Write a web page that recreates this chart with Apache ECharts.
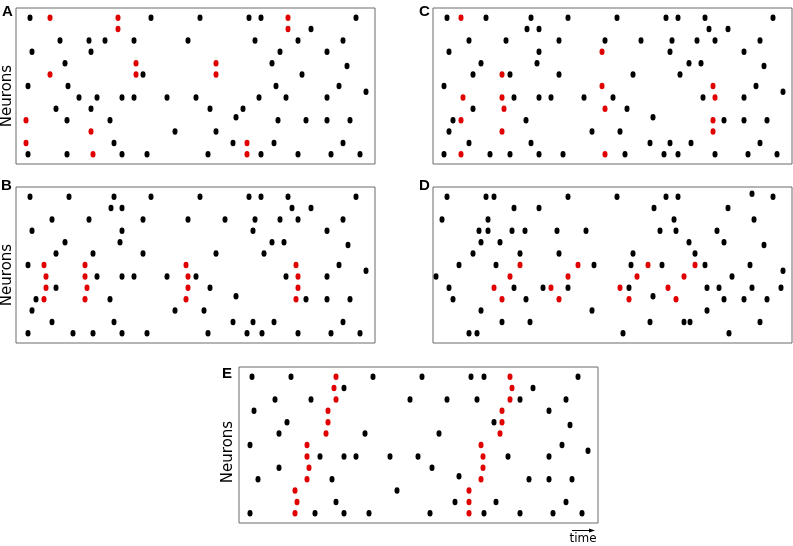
<!DOCTYPE html>
<html>
<head>
<meta charset="utf-8">
<script src="https://cdn.jsdelivr.net/npm/echarts@6/dist/echarts.min.js"></script>
<style>
  html, body { margin: 0; padding: 0; background: #fff; }
  #main { width: 793px; height: 546px; }
</style>
</head>
<body>
<div id="main"></div>
<script>
// spikes as [time, neuron]; neuron 1 = top row
const panelA_black = [
  [14,1],[135,1],[184,1],[233,1],[245,1],[340,1],
  [295,2],
  [44,3],[73,3],[89,3],[118,3],[172,3],[239,3],[282,3],[327,3],
  [16,4],[75,4],[264,4],[311,4],
  [49,5],[256,5],[331,5.25],
  [127,6],[286,6],
  [12,7],[52,7],[260,7],[323,7],[350,7.5],
  [63,8],[81,8],[106,8],[118,8],[151,8],[180,8],[243,8],[270,8],[311,8],
  [40,9],[75,9],[194,9],[227,9],[220,9.75],
  [51,10],[94,10],[262,10],[290,10],[311,10],[334,10],
  [159,11],[200,11],
  [98,12],[217,12],[258,12],[327,12],
  [12,13],[51,13],[106,13],[131,13],[192,13],[245,13],[282,13],[315,13],[344,13]
];
const panelA_red = [
  [34,1],[102,1],[272,1],[102,2],[272,2],[120,5],[200,5],[34,6],[120,6],[200,6],
  [10,10],[75,11],[10,12],[231,12],[77,13],[231,13]
];

const panelB_black = [
  [14,1],[53,1],[98,1],[135,1],[184,1],[233,1],[245,1],[272,1],[340,1],
  [95,2],[106,2],[276,2],[295,2],
  [36,3],[73,3],[127,3],[172,3],[209,3],[239,3],[264,3],[282,3],[327,3],
  [16,4],[106,4],[237,4],[311,4],
  [49,5],[104,5],[256,5],[268,5],[332,5.25],
  [40,6],[77,6],[127,6],[200,6],[248,6],
  [12,7],[323,7],[350,7.5],
  [81,8],[106,8],[118,8],[151,8],[180,8],[270,8],[311,8],
  [40,9],[194,9],[220,9.75],
  [20,10],[94,10],[290,10],[311,10],[334,10],
  [16,11],[159,11],[188,11],
  [36,12],[98,12],[217,12],[237,12],[258,12],[327,12],
  [12,13],[57,13],[77,13],[106,13],[131,13],[192,13],[231,13],[246,13],[282,13],[315,13],[344,13]
];
const panelB_red = [
  [28,7],[69,7],[170,7],[280,7],
  [30,8],[69,8],[172,8],[282,8],
  [30,9],[71,9],[172,9],[282,9],
  [28,10],[69,10],[170,10],[280,10]
];

const panelC_black = [
  [14,1],[53,1],[98,1],[135,1],[184,1],[233,1],[245,1],[272,1],[340,1],
  [94,2],[106,2],[276,2],[295,2],
  [36,3],[73,3],[126,3],[172,3],[208,3],[239,3],[264,3],[282,3],[327,3],
  [16,4],[106,4],[237,4],[311,4],
  [48,5],[104,5],[256,5],[268,5],[331,5.25],
  [40,6],[77,6],[126,6],[200,6],[247,6],
  [11,7],[323,7],[350,7.5],
  [81,8],[106,8],[118,8],[151,8],[180,8],[270,8],[311,8],
  [40,9],[194,9],[220,9.75],
  [20,10],[93,10],[291,10],[311,10],[334,10],
  [16,11],[159,11],[187,11],
  [36,12],[98,12],[217,12],[237,12],[258,12],[327,12],
  [11,13],[57,13],[77,13],[106,13],[130,13],[192,13],[231,13],[245,13],[282,13],[315,13],[344,13]
];
const panelC_red = [
  [28,1],[169,4],[69,6],[169,7],[280,7],[30,8],[69,8],[282,8],[71,9],[172,9],
  [28,10],[280,10],[69,11],[280,11],[28,13],[172,13]
];

const panelD_black = [
  [319,0.75],
  [14,1],[53,1],[61,1],[135,1],[184,1],[233,1],[245,1],[340,1],
  [81,2],[106,2],[221,2],[295,2],
  [9,3],[55,3],[241,3],[321,3],
  [46,4],[55,4],[79,4],[92,4],[124,4],[153,4],[227,4],[243,4],[284,4],
  [48,5],[67,5],[256,5],[291,5],[331,5.25],
  [40,6],[87,6],[126,6],[200,6],[262,6],
  [26,7],[63,7],[161,7],[198,7],[229,7],[272,7],[317,7],[350,7.5],
  [3,8],[299,8],
  [16,9],[81,9],[110,9],[135,9],[196,9],[274,9],[286,9],[319,9],[348,9],[220,9.75],
  [20,10],[93,10],[291,10],[311,10],[334,10],
  [48,11],[159,11],[274,11],
  [69,12],[97,12],[217,12],[251,12],[257,12],[327,12],
  [36,13],[44,13],[190,13],[296,13]
];
const panelD_red = [
  [87,7],[145,7],[215,7],[262,7],
  [77,8],[135,8],[204,8],[251,8],
  [61,9],[118,9],[187,9],[235,9],
  [69,10],[126,10],[196,10],[243,10]
];

const panelE_black = [
  [13,1],[52,1],[134,1],[183,1],[232,1],[245,1],[339,1],
  [105,2],[294,2],
  [36,3],[72,3],[171,3],[208,3],[238,3],[281,3],[327,3],
  [15,4],[310,4],
  [48,5],[255,5],[331,5.25],
  [40,6],[126,6],[200,6],
  [11,7],[323,7],[349,7.5],
  [81,8],[105,8],[117,8],[151,8],[179,8],[269,8],[310,8],
  [40,9],[193,9],[220,9.75],
  [19,10],[93,10],[290,10],[310,10],[333,10],
  [158,11],
  [97,12],[216,12],[257,12],[327,12],
  [11,13],[76,13],[105,13],[130,13],[191,13],[245,13],[281,13],[314,13],[343,13]
];
const panelE_red = [
  [97,1],[271,1],[95,2],[273,2],[97,3],[271,3],[89,4],[263,4],[89,5],[263,5],
  [87,6],[261,6],[68,7],[242,7],[68,8],[244,8],[70,9],[244,9],[68,10],[242,10],
  [56,11],[230,11],[58,12],[230,12],[56,13],[230,13]
];

const panelNames = ['A', 'B', 'C', 'D', 'E'];
const blackSets = [panelA_black, panelB_black, panelC_black, panelD_black, panelE_black];
const redSets = [panelA_red, panelB_red, panelC_red, panelD_red, panelE_red];

// panel boxes in px
const boxes = [
  { left: 16, top: 8 },
  { left: 16, top: 187 },
  { left: 433, top: 8 },
  { left: 433, top: 187 },
  { left: 239, top: 367 }
];

let myChart = echarts.init(document.getElementById('main'), null, { renderer: 'canvas' });

let grids = [], xAxes = [], yAxes = [], series = [];
boxes.forEach(function (b, i) {
  grids.push({
    left: b.left, top: b.top, width: 359, height: 156,
    show: true, borderColor: '#6b6b6b', borderWidth: 1, backgroundColor: '#fff'
  });
  xAxes.push({ gridIndex: i, type: 'value', min: 0, max: 359, show: false });
  yAxes.push({ gridIndex: i, type: 'value', min: 0.15, max: 13.85, inverse: true, show: false });
  series.push({
    name: panelNames[i] + ' spikes', type: 'scatter', xAxisIndex: i, yAxisIndex: i,
    symbol: 'circle', symbolSize: [5, 6.5], itemStyle: { color: '#000', opacity: 1 },
    data: blackSets[i], silent: true
  });
  series.push({
    name: panelNames[i] + ' pattern', type: 'scatter', xAxisIndex: i, yAxisIndex: i,
    symbol: 'circle', symbolSize: [5, 6.5], itemStyle: { color: '#e00000', opacity: 1 },
    data: redSets[i], silent: true
  });
});

const labelFont = { fontFamily: 'Liberation Sans', fontWeight: 'bold', fontSize: 15, fill: '#000' };
function letter(txt, x, y) {
  return { type: 'text', x: x, y: y, style: Object.assign({ text: txt, textAlign: 'left', textVerticalAlign: 'top' }, labelFont) };
}
function neurons(x, y) {
  return {
    type: 'text', x: x, y: y, rotation: Math.PI / 2,
    style: { text: 'Neurons', fontFamily: 'DejaVu Sans', fontSize: 15, fill: '#000', textAlign: 'center', textVerticalAlign: 'middle' }
  };
}

const option = {
  animation: false,
  grid: grids,
  xAxis: xAxes,
  yAxis: yAxes,
  series: series,
  graphic: [
    letter('A', 2, 4),
    letter('B', 1, 178),
    letter('C', 419, 4),
    letter('D', 419, 178),
    letter('E', 222, 366),
    neurons(7, 96),
    neurons(7, 275),
    neurons(228, 452),
    // time arrow under panel E
    { type: 'line', shape: { x1: 572, y1: 530.5, x2: 592, y2: 530.5 }, style: { stroke: '#000', lineWidth: 1 } },
    { type: 'polygon', shape: { points: [[595, 530.5], [589, 528.5], [589, 532.5]] }, style: { fill: '#000' } },
    { type: 'text', x: 583, y: 539, style: { text: 'time', fontFamily: 'DejaVu Sans', fontSize: 12, fill: '#000', textAlign: 'center', textVerticalAlign: 'middle' } }
  ]
};
option && myChart.setOption(option);
</script>
</body>
</html>
